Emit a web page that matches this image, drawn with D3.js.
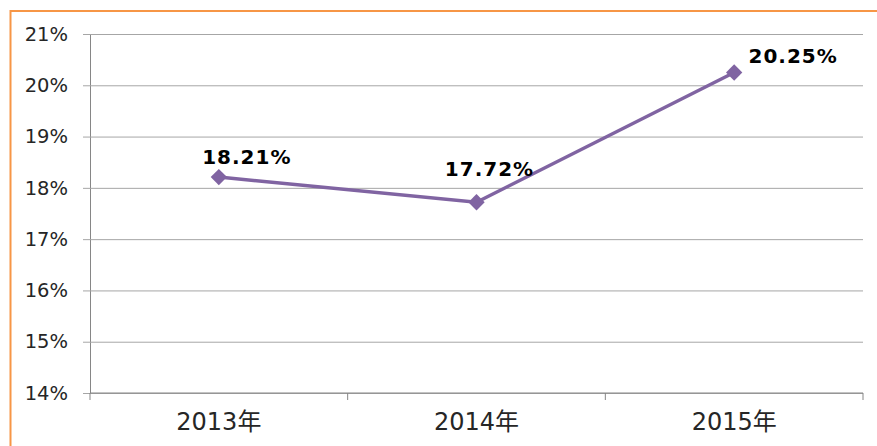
<!DOCTYPE html>
<html>
<head>
<meta charset="utf-8">
<script src="https://cdn.jsdelivr.net/npm/d3@7"></script>
<style>
  body { margin: 0; background: #fff; }
</style>
</head>
<body>
<div id="chart"></div>
<script>
// chart data
const years = ["2013年", "2014年", "2015年"];
const rates = [18.21, 17.72, 20.25];
const yTicks = [14, 15, 16, 17, 18, 19, 20, 21];
// where each value label sits relative to its point
const labelDx = [28, 13, 59];
const labelDy = [-13, -26, -9];

const W = 877, H = 446;
const margin = {top: 34, right: 14, bottom: 53, left: 90},
    width = W - margin.left - margin.right,
    height = H - margin.top - margin.bottom;

const svg = d3.select("#chart")
  .append("svg")
    .attr("width", W)
    .attr("height", H);

// orange frame (only top and left are visible)
svg.append("rect")
    .attr("x", 10.5)
    .attr("y", 11)
    .attr("width", W + 20)
    .attr("height", H + 20)
    .attr("fill", "none")
    .attr("stroke", "#f79646")
    .attr("stroke-width", 2);

const g = svg.append("g")
    .attr("transform", `translate(${margin.left}, ${margin.top})`);

const x = d3.scaleBand()
    .domain(years)
    .range([0, width]);

const y = d3.scaleLinear()
    .domain([14, 21])
    .range([height, 0]);

// horizontal gridlines + y axis
const yAxis = g.append("g")
    .call(d3.axisLeft(y)
        .tickValues(yTicks)
        .tickSize(-width)
        .tickSizeOuter(0)
        .tickPadding(22)
        .tickFormat(d => d + "%"));
yAxis.select(".domain").attr("stroke", "#868686");
yAxis.selectAll(".tick line")
    .attr("stroke", "#a6a6a6")
    .attr("x1", -7);
yAxis.selectAll(".tick text")
    .attr("fill", "#262626")
    .style("font", "19.5px 'DejaVu Sans', sans-serif");

// x axis with ticks between categories
const xAxis = g.append("g")
    .attr("transform", `translate(0, ${height})`)
    .call(d3.axisBottom(x).tickSize(0).tickPadding(20));
xAxis.select(".domain").remove();
xAxis.append("line")
    .attr("x1", 0).attr("x2", width)
    .attr("stroke", "#868686");
xAxis.selectAll(".sep")
    .data(d3.range(years.length + 1))
    .join("line")
    .attr("x1", i => i * x.step())
    .attr("x2", i => i * x.step())
    .attr("y1", 0).attr("y2", 7)
    .attr("stroke", "#868686");
xAxis.selectAll(".tick text")
    .attr("fill", "#262626")
    .style("font", "24px 'DejaVu Sans', 'Noto Sans CJK SC', sans-serif");

const pts = years.map((yr, i) => ({yr, v: rates[i], i}));
const cx = d => x(d.yr) + x.bandwidth() / 2;

g.append("path")
    .datum(pts)
    .attr("fill", "none")
    .attr("stroke", "#8064a2")
    .attr("stroke-width", 3.5)
    .attr("d", d3.line().x(cx).y(d => y(d.v)));

g.selectAll(".marker")
    .data(pts)
    .join("path")
    .attr("class", "marker")
    .attr("transform", d => `translate(${cx(d)}, ${y(d.v)})`)
    .attr("d", d3.symbol(d3.symbolDiamond2, 170))
    .attr("fill", "#8064a2");

g.selectAll(".label")
    .data(pts)
    .join("text")
    .attr("class", "label")
    .attr("x", d => cx(d) + labelDx[d.i])
    .attr("y", d => y(d.v) + labelDy[d.i])
    .attr("text-anchor", "middle")
    .attr("fill", "#000")
    .style("font", "bold 20px 'DejaVu Sans', sans-serif")
    .style("letter-spacing", "1px")
    .text(d => d.v.toFixed(2) + "%");
</script>
</body>
</html>
